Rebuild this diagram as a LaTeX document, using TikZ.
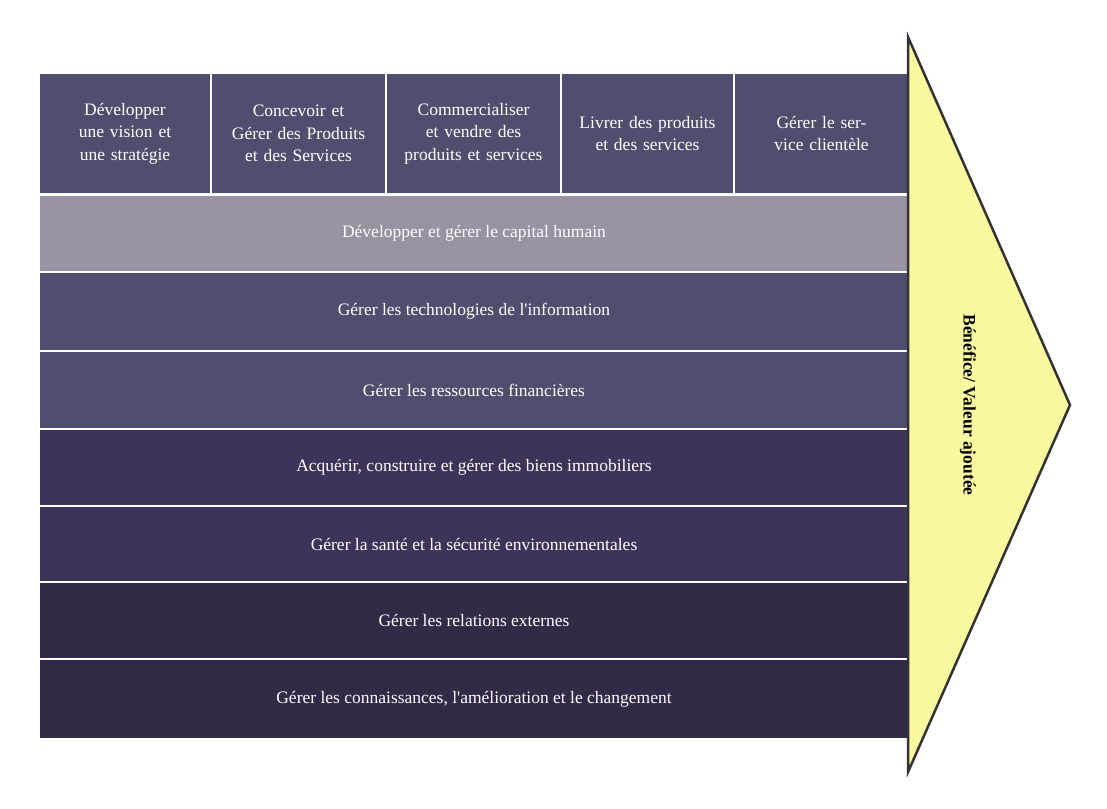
\documentclass[tikz,border=0pt]{standalone}
\usepackage{fontspec}
\setmainfont{Liberation Serif}
\usepackage{xcolor}
\definecolor{topblue}{HTML}{4E4E6E}
\definecolor{lightrow}{HTML}{9A92A2}
\definecolor{midrow}{HTML}{3E3358}
\definecolor{darkrow}{HTML}{332A48}
\definecolor{arrowfill}{HTML}{FBF9A0}
\begin{document}
\begin{tikzpicture}[x=1pt,y=-1pt]
%style for top process box
\tikzstyle{procbox} = [rectangle, draw=none, text=white, align=center, inner sep=0pt,
  minimum height=119pt, text width=150pt, font=\fontsize{17.5}{22.5}\selectfont]
%style for support row
\tikzstyle{rowbox} = [rectangle, draw=none, text=white, inner sep=0pt,
  minimum width=868pt, font=\fontsize{17.5}{22.5}\selectfont]

\useasboundingbox (0,0) rectangle (1107,808);

%top process boxes
\node[procbox, fill=topblue, minimum width=170pt] (vision) at (125,133.5) {Développer une vision et une stratégie};
\node[procbox, fill=topblue, minimum width=173pt] (produits) at (298.5,133.5) {Concevoir et Gérer des Produits et des Services};
\node[procbox, fill=topblue, minimum width=173pt] (vendre) at (473.5,133.5) {Commercialiser et vendre des produits et services};
\node[procbox, fill=topblue, minimum width=171pt] (livrer) at (647.5,133.5) {Livrer des produits et des services};
\node[procbox, fill=topblue, minimum width=173pt] (client) at (821.5,133.5) {Gérer le service clientèle};

%support rows
\node[rowbox, fill=lightrow, minimum height=75pt] (humain) at (474,233.5) {Développer et gérer le capital humain};
\node[rowbox, fill=topblue, minimum height=77pt] (techno) at (474,311.5) {Gérer les technologies de l\textquotesingle information};
\node[rowbox, fill=topblue, minimum height=76pt] (finance) at (474,390) {Gérer les ressources financières};
\node[rowbox, fill=midrow, minimum height=75pt] (immo) at (474,467.5) {Acquérir, construire et gérer des biens immobiliers};
\node[rowbox, fill=midrow, minimum height=74pt] (sante) at (474,544) {Gérer la santé et la sécurité environnementales};
\node[rowbox, fill=darkrow, minimum height=75pt] (externes) at (474,620.5) {Gérer les relations externes};
\node[rowbox, fill=darkrow, minimum height=78pt] (savoir) at (474,699) {Gérer les connaissances, l\textquotesingle amélioration et le changement};

%value arrow
\draw[fill=arrowfill, draw=black!80, line width=2.5pt, line join=miter] (908,37) -- (1070,405) -- (908,772) -- cycle;
\node[rotate=-90, font=\fontsize{17.5}{22.5}\selectfont\bfseries] (valeur) at (968,405) {Bénéfice/ Valeur ajoutée};
\end{tikzpicture}
\end{document}
